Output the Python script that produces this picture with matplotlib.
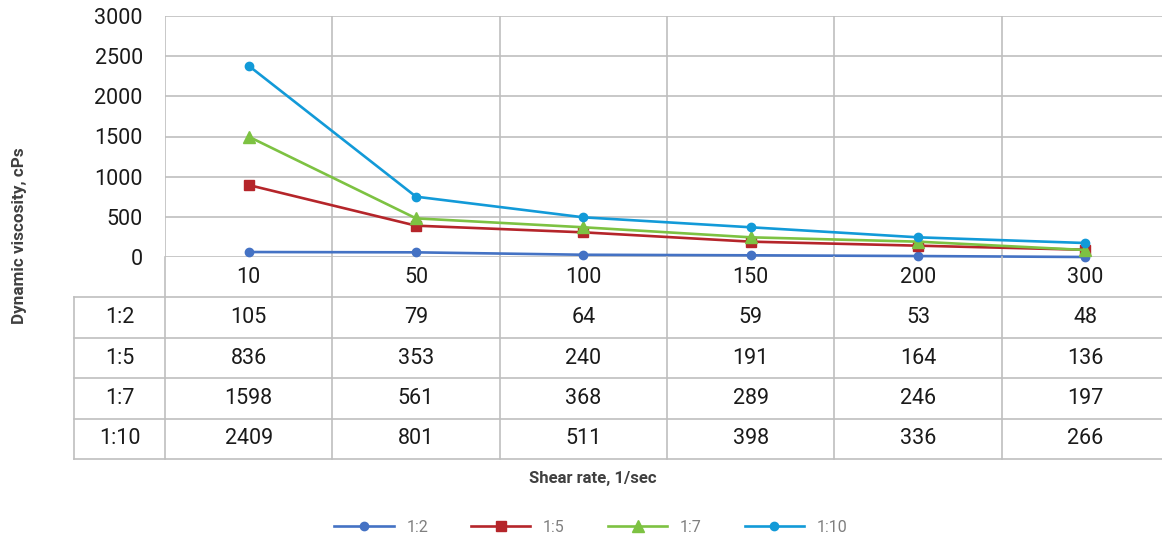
import matplotlib
matplotlib.use("Agg")
import matplotlib.pyplot as plt
from matplotlib.lines import Line2D

plt.rcParams['font.family'] = ['Roboto', 'DejaVu Sans']

# dane
shear = ["10", "50", "100", "150", "200", "300"]
series = ["1:2", "1:5", "1:7", "1:10"]

line_12 = [62, 58, 28, 21, 12, 0]
line_15 = [896, 390, 307, 191, 141, 90]
line_17 = [1498, 481, 370, 245, 191, 87]
line_110 = [2381, 751, 494, 370, 245, 174]

# wartości w tabeli pod wykresem
tab_12 = [105, 79, 64, 59, 53, 48]
tab_15 = [836, 353, 240, 191, 164, 136]
tab_17 = [1598, 561, 368, 289, 246, 197]
tab_110 = [2409, 801, 511, 398, 336, 266]

colors = ["#4472c4", "#b5252a", "#7dc242", "#129ad8"]
markers = ["o", "s", "^", "o"]
msizes = [6, 6.5, 8, 6]

W, H = 1162, 537
fig = plt.figure(figsize=(W / 100, H / 100), dpi=100)

grid_c = "#bfbfbf"
txt_c = "#1a1a1a"
fs = 15.5
x0, x1 = 165, 1169  # piksele osi x wykresu
ax = fig.add_axes([x0 / W, 1 - 257 / H, (x1 - x0) / W, 241 / H])
xs = list(range(len(shear)))
for vals, c, m, ms in zip([line_12, line_15, line_17, line_110], colors, markers, msizes):
    ax.plot(xs, vals, color=c, lw=1.9, marker=m, markersize=ms, zorder=3, clip_on=False)

ax.set_xlim(-0.5, 5.5)
ax.set_ylim(0, 3000)
ax.set_yticks(range(0, 3001, 500))
ax.set_xticks([])
ax.tick_params(axis='y', length=0, pad=16, labelsize=fs, labelcolor=txt_c)
ax.grid(axis='y', color=grid_c, lw=1.2)
for xv in [-0.5, 0.5, 1.5, 2.5, 3.5, 4.5]:
    ax.axvline(xv, color=grid_c, lw=1.2, zorder=1)
for s in ax.spines.values():
    s.set_visible(False)
ax.set_axisbelow(True)

# tabela
px_unit = (x1 - x0) / 6
tx_left = -0.5 - (x0 - 74) / px_unit
tab = fig.add_axes([74 / W, 1 - 459 / H, (x1 - 74) / W, 202 / H])
tab.set_xlim(tx_left, 5.5)
tab.set_ylim(0, 5)
tab.axis('off')
for yv in [0, 1, 2, 3, 4]:
    tab.plot([tx_left, 5.5], [yv, yv], color=grid_c, lw=1.2, clip_on=False)
tab.plot([tx_left, tx_left], [0, 4], color=grid_c, lw=1.2, clip_on=False)
for xv in [-0.5, 0.5, 1.5, 2.5, 3.5, 4.5]:
    tab.plot([xv, xv], [0, 5], color=grid_c, lw=1.2, clip_on=False)

for i, lab in enumerate(shear):
    tab.text(i, 4.5, lab, ha='center', va='center', fontsize=fs, color=txt_c)
lab_x = (tx_left + -0.5) / 2
for r, (name, vals) in enumerate(zip(series, [tab_12, tab_15, tab_17, tab_110])):
    yc = 3.5 - r
    tab.text(lab_x, yc, name, ha='center', va='center', fontsize=fs, color=txt_c)
    for i, v in enumerate(vals):
        tab.text(i, yc, str(v), ha='center', va='center', fontsize=fs, color=txt_c)

fig.text(20 / W, 1 - 236 / H, "Dynamic viscosity, cPs", rotation=90, ha='center', va='center',
         fontsize=12.3, fontweight='bold', color="#404040")
fig.text(593 / W, 1 - 479 / H, "Shear rate, 1/sec", ha='center', va='center',
         fontsize=12, fontweight='bold', color="#404040")

handles = [Line2D([], [], color=c, lw=1.9, marker=m, markersize=ms)
           for c, m, ms in zip(colors, markers, msizes)]
leg = fig.legend(handles, series, loc='center', bbox_to_anchor=(591 / W, 1 - 527 / H), ncol=4,
                 frameon=False, fontsize=11.5, handlelength=3.7, handletextpad=0.8,
                 columnspacing=2.7, labelcolor="#7f7f7f")

fig.savefig("out.png", dpi=100)
